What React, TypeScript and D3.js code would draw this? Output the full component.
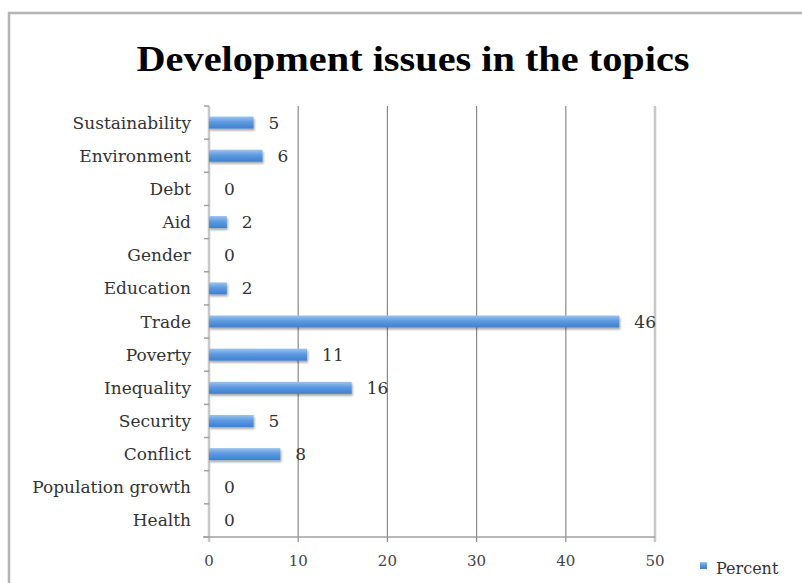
import React from "react";
import * as d3 from "d3";

const categories = ["Sustainability","Environment","Debt","Aid","Gender","Education","Trade","Poverty","Inequality","Security","Conflict","Population growth","Health"];
const values = [5,6,0,2,0,2,46,11,16,5,8,0,0];
const xTicks = [0,10,20,30,40,50];
const seriesName = "Percent";
const title = "Development issues in the topics";

export default function App() {
  const W = 802, H = 583;
  const left = 209, right = 655, top = 106, bottom = 537;
  const x = d3.scaleLinear().domain([0, 50]).range([left, right]);
  const y = d3.scaleBand().domain(categories).range([top, bottom]);
  const bw = 12;
  const font = "'DejaVu Serif', serif";
  return (
    <svg width={W} height={H} style={{ position: "absolute", left: 0, top: 0, background: "#fff" }}>
      <defs>
        <linearGradient id="bar" x1="0" y1="0" x2="0" y2="1">
          <stop offset="0" stopColor="#9cc3ef" />
          <stop offset="0.45" stopColor="#5d9ae0" />
          <stop offset="1" stopColor="#3f7fcf" />
        </linearGradient>
        <filter id="sh" x="-10%" y="-50%" width="130%" height="250%">
          <feGaussianBlur in="SourceAlpha" stdDeviation="1.2" />
          <feOffset dx="1" dy="1.5" result="b" />
          <feComponentTransfer><feFuncA type="linear" slope="0.35" /></feComponentTransfer>
          <feMerge><feMergeNode /><feMergeNode in="SourceGraphic" /></feMerge>
        </filter>
      </defs>
      <rect x={9} y={13} width={W} height={H} fill="none" stroke="#b5b5b5" strokeWidth={2.5} />
      <text x={413} y={71} textAnchor="middle" fontFamily="'Liberation Serif', serif" fontWeight="bold" fontSize={36}
        textLength={553} lengthAdjust="spacingAndGlyphs" fill="#000">{title}</text>
      {xTicks.map((t) => (
        <g key={t}>
          <line x1={x(t)} x2={x(t)} y1={top} y2={bottom + 5}
            stroke={t === 0 || t === 50 ? "#c8c8c8" : "#8a8a8a"} strokeWidth={t === 0 || t === 50 ? 2.5 : 1.2} />
          <text x={x(t)} y={566} textAnchor="middle" fontFamily={font} fontSize={15} fill="#444">{t}</text>
        </g>
      ))}
      <line x1={left - 6} x2={right} y1={bottom} y2={bottom} stroke="#a0a0a0" strokeWidth={1.5} />
      {d3.range(categories.length + 1).map((i) => {
        const yy = top + i * y.step();
        return <line key={i} x1={left - 5} x2={left} y1={yy} y2={yy} stroke="#a0a0a0" strokeWidth={1.5} />;
      })}
      {categories.map((c, i) => {
        const cy = (y(c) as number) + y.bandwidth() / 2;
        const v = values[i];
        return (
          <g key={c}>
            {v > 0 && (
              <rect x={x(0)} y={cy - bw / 2} width={x(v) - x(0)} height={bw} fill="url(#bar)" filter="url(#sh)" />
            )}
            <text x={left - 18} y={cy + 6} textAnchor="end" fontFamily={font} fontSize={17} fill="#333">{c}</text>
            <text x={x(v) + 15} y={cy + 6} textAnchor="start" fontFamily={font} fontSize={17} fill="#333">{v}</text>
          </g>
        );
      })}
      <rect x={700} y={562} width={7} height={7} fill="url(#bar)" />
      <text x={716} y={574} fontFamily={font} fontSize={16} fill="#333">{seriesName}</text>
    </svg>
  );
}
